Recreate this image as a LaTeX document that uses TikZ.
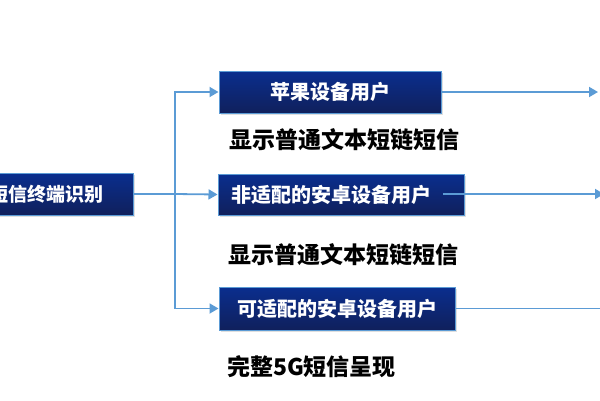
\documentclass[tikz,border=0pt]{standalone}
\usepackage{fontspec}
\setmainfont{Noto Sans CJK SC}
\usetikzlibrary{arrows.meta,shadows}
\definecolor{linec}{HTML}{5B9BD5}
\definecolor{boxtop}{HTML}{0A2E8E}
\definecolor{boxbot}{HTML}{10205C}
\definecolor{boxline}{HTML}{5B9BD5}
\tikzset{
  bluebox/.style={draw=boxline, line width=1pt, top color=boxtop, bottom color=boxbot,
    text=white, font=\fontsize{20}{24}\selectfont\bfseries, inner sep=0pt,
    drop shadow={opacity=0.25, shadow xshift=1.5pt, shadow yshift=-1.5pt}},
  conn/.style={draw=linec, line width=1.8pt},
  arr/.style={conn, -{Triangle[length=9pt,width=10pt]}},
  lbl/.style={font=\fontsize{23}{27}\selectfont\bfseries, text=black, inner sep=0pt}
}
\begin{document}
\begin{tikzpicture}[x=1pt,y=-1pt]
\useasboundingbox (0,0) rectangle (600,400);
% boxes
\node[bluebox, minimum width=172pt, minimum height=42pt, font=\fontsize{19}{23}\selectfont\bfseries] (b0) at (47,194) {短信终端识别};
\node[bluebox, minimum width=222pt, minimum height=42pt] (b1) at (330,92) {苹果设备用户};
\node[bluebox, minimum width=246pt, minimum height=41pt, text width=220pt, align=left, inner xsep=13pt] (b2) at (341,194.5) {非适配的安卓设备用户};
\node[bluebox, minimum width=236pt, minimum height=43pt] (b3) at (337,308.5) {可适配的安卓设备用户};
% labels
\node[lbl] (l1) at (344,140) {显示普通文本短链短信};
\node[lbl] (l2) at (343,255) {显示普通文本短链短信};
\node[lbl] (l3) at (311.5,367) {完整5G短信呈现};
% junction and free ends
\coordinate (j0) at (175,194);
\coordinate (s2) at (443,194);
\coordinate (e1) at (598,92);
\coordinate (e2) at (604,194);
\coordinate (e3) at (615,308.5);
% connectors
\draw[conn] (b0.east) -- (j0);
\draw[arr] (j0) |- (b1.west);
\draw[arr] (j0) -- (b2.west);
\draw[arr] (j0) |- (b3.west);
\draw[arr] (b1.east) -- (e1);
\draw[arr] (s2) -- (e2);
\draw[arr] (b3.east) -- (e3);
\end{tikzpicture}
\end{document}
